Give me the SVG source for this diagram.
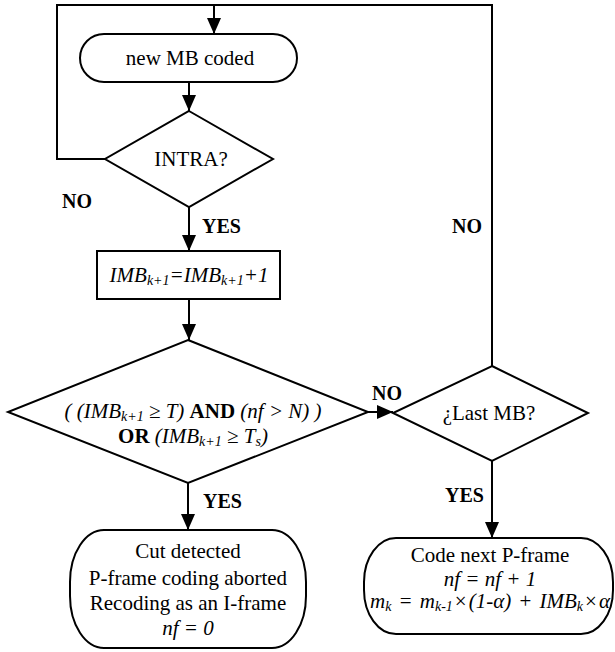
<svg xmlns="http://www.w3.org/2000/svg" width="615" height="652" viewBox="0 0 615 652">
<style>
text{font-family:"Liberation Serif","Times New Roman",serif;font-size:21px;fill:#000}
.s{fill:#fff;stroke:#000;stroke-width:2}
.c{fill:none;stroke:#000;stroke-width:2}
.m{text-anchor:middle}
.i{font-style:italic}
.b{font-weight:bold}
.sub{font-size:14px;font-style:italic}
.lb{font-size:20px;font-weight:bold}
</style>
<defs>
<marker id="ah" markerWidth="16" markerHeight="14" refX="16" refY="7" orient="auto" markerUnits="userSpaceOnUse">
<path d="M0,0 L16,7 L0,14 z" fill="#000"/>
</marker>
</defs>
<rect width="615" height="652" fill="#fff"/>
<g id="connectors">
<path class="c" d="M105,159 H57 V5 H214"/>
<path class="c" d="M492,366 V5 H214 V34" marker-end="url(#ah)"/>
<path class="c" d="M189,82 V111" marker-end="url(#ah)"/>
<path class="c" d="M189,207 V251" marker-end="url(#ah)"/>
<path class="c" d="M189,299 V340" marker-end="url(#ah)"/>
<path class="c" d="M368,412 H393" marker-end="url(#ah)"/>
<path class="c" d="M188,483 V530" marker-end="url(#ah)"/>
<path class="c" d="M492,461 V538" marker-end="url(#ah)"/>
<text class="lb" x="62" y="208">NO</text>
<text class="lb" x="202" y="233">YES</text>
<text class="lb" x="452" y="233">NO</text>
<text class="lb" x="372" y="400">NO</text>
<text class="lb" x="203" y="508">YES</text>
<text class="lb" x="445" y="502">YES</text>
</g>
<g id="start">
<rect class="s" x="80" y="34" width="217" height="48" rx="24" ry="24"/>
<text class="m" x="190" y="65">new MB coded</text>
</g>
<g id="intra">
<polygon class="s" points="189,111 273,159 189,207 105,159"/>
<text class="m" x="191" y="166">INTRA?</text>
</g>
<g id="increment">
<rect class="s" x="97" y="251" width="183" height="48"/>
<text class="m i" x="189" y="282">IMB<tspan class="sub" dy="3">k+1</tspan><tspan dy="-3">=IMB</tspan><tspan class="sub" dy="3">k+1</tspan><tspan dy="-3">+1</tspan></text>
</g>
<g id="cutTest">
<polygon class="s" points="188,340 368,412 188,483 8,412"/>
<text class="m i" x="193" y="418">( (IMB<tspan class="sub" dy="3">k+1</tspan><tspan dy="-3"> ≥ T) </tspan><tspan class="b" font-style="normal">AND</tspan> (nf &gt; N) )</text>
<text class="m i" x="193" y="443"><tspan class="b" font-style="normal">OR</tspan> (IMB<tspan class="sub" dy="3">k+1</tspan><tspan dy="-3"> ≥ T</tspan><tspan class="sub" dy="3">s</tspan><tspan dy="-3">)</tspan></text>
</g>
<g id="lastMB">
<polygon class="s" points="492,366 588,413 492,461 393,413"/>
<text class="m" x="489" y="420">¿Last MB?</text>
</g>
<g id="cutDetected">
<rect class="s" x="70" y="530" width="236" height="118" rx="34" ry="52"/>
<text class="m" x="188" y="558">Cut detected</text>
<text class="m" x="188" y="585">P-frame coding aborted</text>
<text class="m" x="188" y="610">Recoding as an I-frame</text>
<text class="m i" x="188" y="635">nf = 0</text>
</g>
<g id="nextFrame">
<rect class="s" x="364" y="538" width="249" height="96" rx="32" ry="44"/>
<text class="m" x="490" y="562">Code next P-frame</text>
<text class="m i" x="490" y="586">nf = nf + 1</text>
<text class="m" x="490" y="608"><tspan class="i">m</tspan><tspan class="sub" dy="3" font-size="15">k</tspan><tspan dy="-3" dx="3"> = </tspan><tspan class="i" dx="3">m</tspan><tspan class="sub" dy="3" font-size="15">k-1</tspan><tspan dy="-3" dx="2">×</tspan><tspan class="i" dx="2">(1-α)</tspan><tspan dx="3"> + </tspan><tspan class="i" dx="3">IMB</tspan><tspan class="sub" dy="3" font-size="15">k</tspan><tspan dy="-3" dx="2">×</tspan><tspan class="i" dx="2">α</tspan></text>
</g>
</svg>
